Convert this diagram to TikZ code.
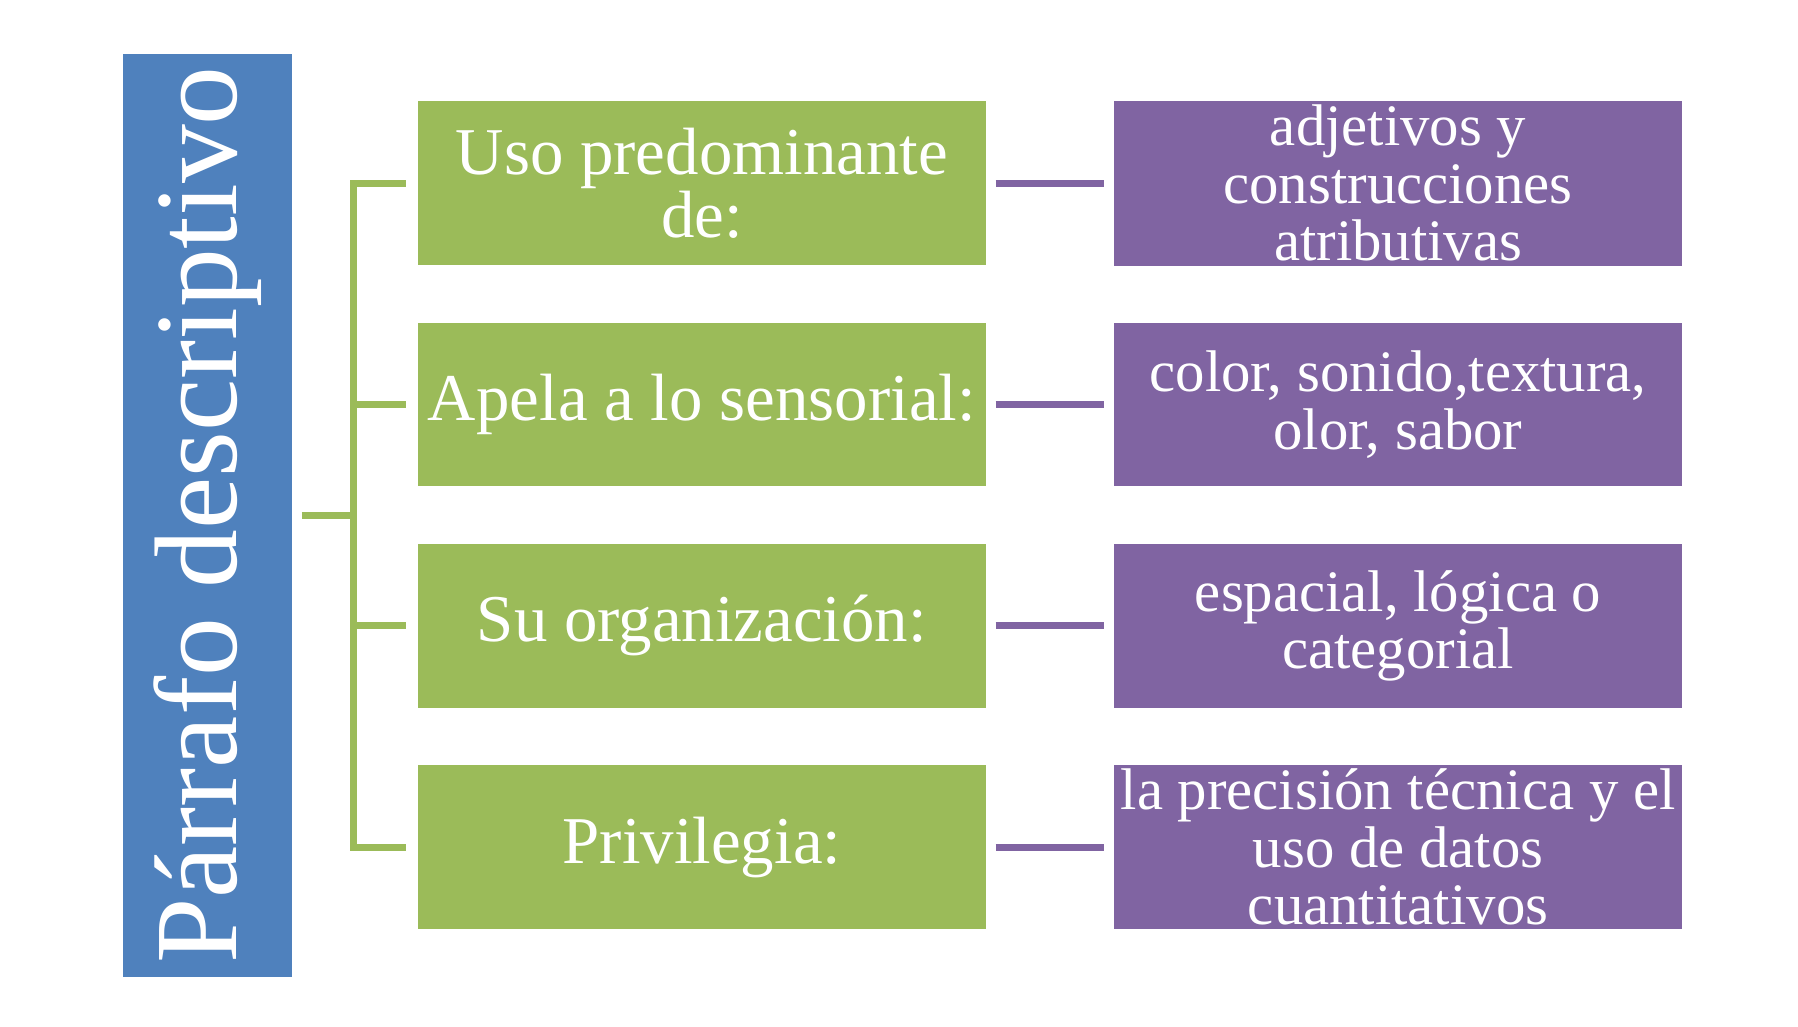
\documentclass[tikz,border=0pt]{standalone}
\usepackage{fontspec}
\setmainfont{Liberation Serif}
\definecolor{titleblue}{RGB}{79,129,189}
\definecolor{leafgreen}{RGB}{155,187,89}
\definecolor{itempurple}{RGB}{128,100,162}
\tikzset{
  catbox/.style={fill=leafgreen, text=white, minimum width=4.92cm, minimum height=1.42cm, align=center, inner sep=1pt, font=\fontsize{16.5}{15.5}\selectfont},
  itembox/.style={fill=itempurple, text=white, minimum width=4.92cm, minimum height=1.42cm, align=center, inner sep=1pt, font=\fontsize{14.5}{14.2}\selectfont},
  brace/.style={leafgreen, line width=1.7pt},
  link/.style={itempurple, line width=1.7pt}
}
\begin{document}
\begin{tikzpicture}[x=0.01cm, y=-0.01cm]
	\useasboundingbox (0,0) rectangle (1560,891);
	\fill[titleblue] (107,47) rectangle (253,848);
	\node[rotate=90, text=white, font=\fontsize{29}{29}\selectfont] (title) at (180,447) {Párrafo descriptivo};
	% green column
	\node[catbox] (c1) at (609,159) {Uso predominante\\de:};
	\node[catbox] (c2) at (609,351) {Apela a lo sensorial:};
	\node[catbox] (c3) at (609,543) {Su organización:};
	\node[catbox] (c4) at (609,735) {Privilegia:};
	% purple column
	\node[itembox] (i1) at (1213,159) {adjetivos y\\construcciones\\atributivas};
	\node[itembox] (i2) at (1213,351) {color, sonido,textura,\\olor, sabor};
	\node[itembox] (i3) at (1213,543) {espacial, lógica o\\categorial};
	\node[itembox] (i4) at (1213,735) {la precisión técnica y el\\uso de datos\\cuantitativos};
	% bracket
	\coordinate (root) at (262,447);
	\coordinate (spine) at (307,447);
	\draw[brace] (root) -- (spine);
	\draw[brace] ([xshift=-0.1cm]c1.west) -| (spine) |- ([xshift=-0.1cm]c4.west);
	\draw[brace] ([xshift=-0.1cm]c2.west) -- (spine |- c2.west);
	\draw[brace] ([xshift=-0.1cm]c3.west) -- (spine |- c3.west);
	\foreach \n in {1,2,3,4}
		\draw[link] ([xshift=0.08cm]c\n.east) -- ([xshift=-0.08cm]i\n.west);
\end{tikzpicture}
\end{document}
